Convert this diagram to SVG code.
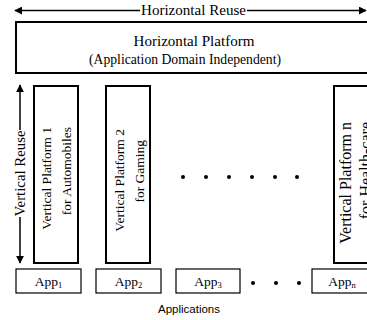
<svg xmlns="http://www.w3.org/2000/svg" width="367" height="320" viewBox="0 0 367 320">
<defs>
<marker id="ah" viewBox="0 0 10 10" refX="9" refY="5" markerWidth="8" markerHeight="8" markerUnits="userSpaceOnUse" orient="auto-start-reverse">
<path d="M0,0 L10,5 L0,10 Z" fill="#000"/>
</marker>
</defs>
<style>
.serif{font-family:"Liberation Serif","Times New Roman",serif;fill:#000}
.box{fill:#fff;stroke:#000;stroke-width:2}
.app{fill:#fff;stroke:#000;stroke-width:1.2}
.ln{stroke:#000;stroke-width:1.5;fill:none}
.dot{fill:#000}
</style>
<rect width="367" height="320" fill="#fff"/>
<g id="connectors">
<line class="ln" x1="140" y1="10.5" x2="15" y2="10.5" marker-end="url(#ah)"/>
<line class="ln" x1="247" y1="10.5" x2="366" y2="10.5" marker-end="url(#ah)"/>
<line class="ln" x1="20" y1="130" x2="20" y2="85" marker-end="url(#ah)"/>
<line class="ln" x1="20" y1="217" x2="20" y2="263" marker-end="url(#ah)"/>
</g>
<g id="horizontal-reuse">
<text class="serif" x="193.5" y="14.5" font-size="14.5" text-anchor="middle" textLength="105" lengthAdjust="spacingAndGlyphs">Horizontal Reuse</text>
</g>
<g id="vertical-reuse">
<text class="serif" font-size="14.5" text-anchor="middle" textLength="86" lengthAdjust="spacingAndGlyphs" transform="translate(24.5,173.5) rotate(-90)">Vertical Reuse</text>
</g>
<g id="horizontal-platform">
<rect class="box" x="16" y="22" width="360" height="51"/>
<text class="serif" x="194" y="46" font-size="15" text-anchor="middle" textLength="121" lengthAdjust="spacingAndGlyphs">Horizontal Platform</text>
<text class="serif" x="185" y="64" font-size="14" text-anchor="middle" textLength="192" lengthAdjust="spacingAndGlyphs">(Application Domain Independent)</text>
</g>
<g id="vertical-platform-1">
<rect class="box" x="34" y="86" width="44" height="177"/>
<text class="serif" font-size="13.5" text-anchor="end" transform="translate(51,127) rotate(-90)">Vertical Platform 1</text>
<text class="serif" font-size="13.5" text-anchor="end" transform="translate(71,127) rotate(-90)">for Automobiles</text>
</g>
<g id="vertical-platform-2">
<rect class="box" x="106" y="86" width="44" height="177"/>
<text class="serif" font-size="13.5" text-anchor="end" transform="translate(124,129) rotate(-90)">Vertical Platform 2</text>
<text class="serif" font-size="13.5" text-anchor="end" transform="translate(144,140) rotate(-90)">for Gaming</text>
</g>
<g id="middle-dots">
<circle class="dot" cx="183" cy="177" r="2"/>
<circle class="dot" cx="206" cy="177" r="2"/>
<circle class="dot" cx="229" cy="177" r="2"/>
<circle class="dot" cx="252" cy="177" r="2"/>
<circle class="dot" cx="275" cy="177" r="2"/>
<circle class="dot" cx="297" cy="177" r="2"/>
</g>
<g id="vertical-platform-n">
<rect class="box" x="334" y="86" width="44" height="177"/>
<text class="serif" font-size="16" text-anchor="end" transform="translate(351,122) rotate(-90)">Vertical Platform n</text>
<text class="serif" font-size="16" text-anchor="end" transform="translate(371,122) rotate(-90)">for Health-care</text>
</g>
<g id="app-1">
<rect class="app" x="16" y="269" width="65" height="24"/>
<text class="serif" x="48.5" y="286" font-size="13.5" text-anchor="middle">App<tspan font-size="8.5" dy="1.5">1</tspan></text>
</g>
<g id="app-2">
<rect class="app" x="96" y="269" width="65" height="24"/>
<text class="serif" x="128.5" y="286" font-size="13.5" text-anchor="middle">App<tspan font-size="8.5" dy="1.5">2</tspan></text>
</g>
<g id="app-3">
<rect class="app" x="176" y="269" width="64" height="24"/>
<text class="serif" x="208" y="286" font-size="13.5" text-anchor="middle">App<tspan font-size="8.5" dy="1.5">3</tspan></text>
</g>
<g id="bottom-dots">
<circle class="dot" cx="253" cy="283" r="2"/>
<circle class="dot" cx="276" cy="283" r="2"/>
<circle class="dot" cx="299" cy="283" r="2"/>
</g>
<g id="app-n">
<rect class="app" x="312" y="269" width="65" height="24"/>
<text class="serif" x="342" y="286" font-size="13.5" text-anchor="middle">App<tspan font-size="8.5" dy="1.5">n</tspan></text>
</g>
<g id="applications-label">
<text x="189" y="313" font-family="'Liberation Sans',Arial,sans-serif" font-size="11.5" text-anchor="middle" fill="#000">Applications</text>
</g>
</svg>
